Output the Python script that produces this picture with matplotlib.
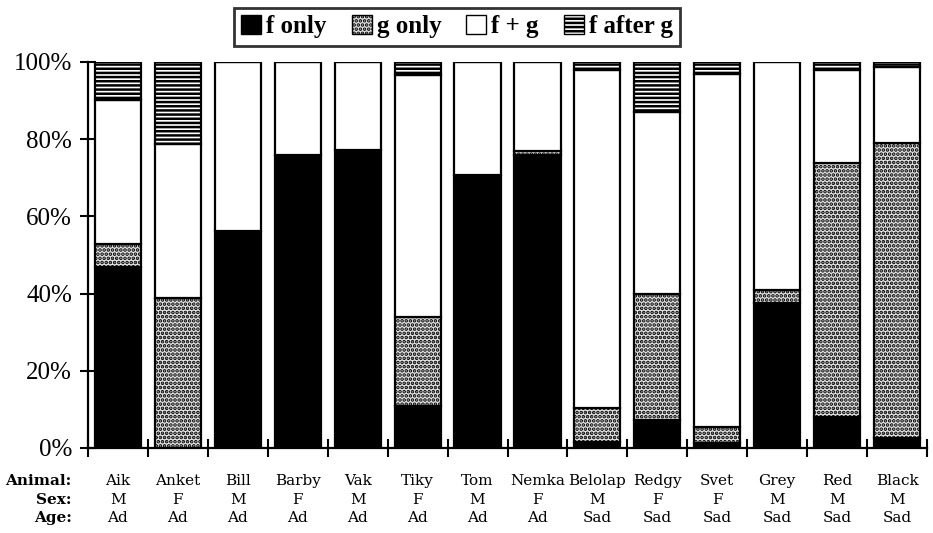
import numpy as np
import matplotlib
matplotlib.use('Agg')
import matplotlib.pyplot as plt
from matplotlib.patches import Patch

# Share of each behaviour type per animal (%)
animals = ['Aik', 'Anket', 'Bill', 'Barby', 'Vak', 'Tiky', 'Tom', 'Nemka',
           'Belolap', 'Redgy', 'Svet', 'Grey', 'Red', 'Black']
sexes = ['M', 'F', 'M', 'F', 'M', 'F', 'M', 'F', 'M', 'F', 'F', 'M', 'M', 'M']
ages = ['Ad'] * 8 + ['Sad'] * 6

f_only = [47.0, 0.0, 56.3, 75.9, 77.2, 11.0, 70.7, 76.0, 1.5, 7.3, 1.3, 37.6, 8.1, 2.6]
g_only = [5.8, 38.8, 0.0, 0.0, 0.0, 23.0, 0.0, 1.0, 8.9, 32.6, 4.2, 3.4, 65.7, 76.4]
f_and_g = [37.4, 39.9, 43.7, 24.1, 22.8, 62.6, 29.3, 23.0, 87.6, 47.2, 91.5, 59.0, 24.2, 19.7]
f_after_g = [9.8, 21.3, 0.0, 0.0, 0.0, 3.4, 0.0, 0.0, 2.0, 12.9, 3.0, 0.0, 2.0, 1.3]

series = [
    ('f only', f_only, dict(facecolor='black', hatch=None)),
    ('g only', g_only, dict(facecolor='#e2e2e2', hatch='....')),
    ('f + g', f_and_g, dict(facecolor='white', hatch=None)),
    ('f after g', f_after_g, dict(facecolor='white', hatch='----')),
]

plt.rcParams['hatch.linewidth'] = 1.8
plt.rcParams['font.family'] = 'Liberation Serif'

fig = plt.figure(figsize=(9.33, 5.33), dpi=100)
ax = fig.add_axes([0.0943, 0.1595, 0.8993, 0.7242])

x = np.arange(len(animals))
bottom = np.zeros(len(animals))
for label, vals, style in series:
    vals = np.array(vals)
    ax.bar(x, vals, width=0.77, bottom=bottom, edgecolor='black',
           linewidth=1.6, label=label, **style)
    bottom += vals

ax.set_xlim(-0.5, len(animals) - 0.5)
ax.set_ylim(0, 100)
ax.set_yticks(np.arange(0, 101, 20))
ax.set_yticklabels([f'{v}%' for v in range(0, 101, 20)], fontsize=18)
ax.set_xticks(np.arange(-0.5, len(animals), 1.0))
ax.set_xticklabels([])
ax.tick_params(axis='y', direction='inout', length=11, width=1.5, pad=6)
ax.tick_params(axis='x', direction='inout', length=13, width=1.5)
for side in ('top', 'right'):
    ax.spines[side].set_visible(False)
for side in ('left', 'bottom'):
    ax.spines[side].set_linewidth(1.6)

# Animal / sex / age table under the bars
rows = [(0.0976, animals, 'Animal:'), (0.0619, sexes, 'Sex:'), (0.0281, ages, 'Age:')]
trans = matplotlib.transforms.blended_transform_factory(ax.transData, fig.transFigure)
for y, labels, head in rows:
    fig.text(0.077, y, head, ha='right', va='center', fontsize=11,
             fontweight='bold', family='DejaVu Serif')
    for xi, lab in zip(x, labels):
        ax.text(xi, y, lab, transform=trans, ha='center', va='center',
                fontsize=11, family='DejaVu Serif', clip_on=False)

handles = [Patch(edgecolor='black', linewidth=1.0, **style) for _, _, style in series]
leg = fig.legend(handles, [s[0] for s in series], loc='center',
                 bbox_to_anchor=(0.49, 0.95), ncol=4, frameon=True,
                 fancybox=False, edgecolor='black', handlelength=0.8,
                 handleheight=0.8, handletextpad=0.2, columnspacing=1.0,
                 borderpad=0.3, prop={'family': 'Liberation Serif',
                                      'weight': 'bold', 'size': 18})
leg.get_frame().set_linewidth(2.0)

fig.savefig('out.png', dpi=100)
